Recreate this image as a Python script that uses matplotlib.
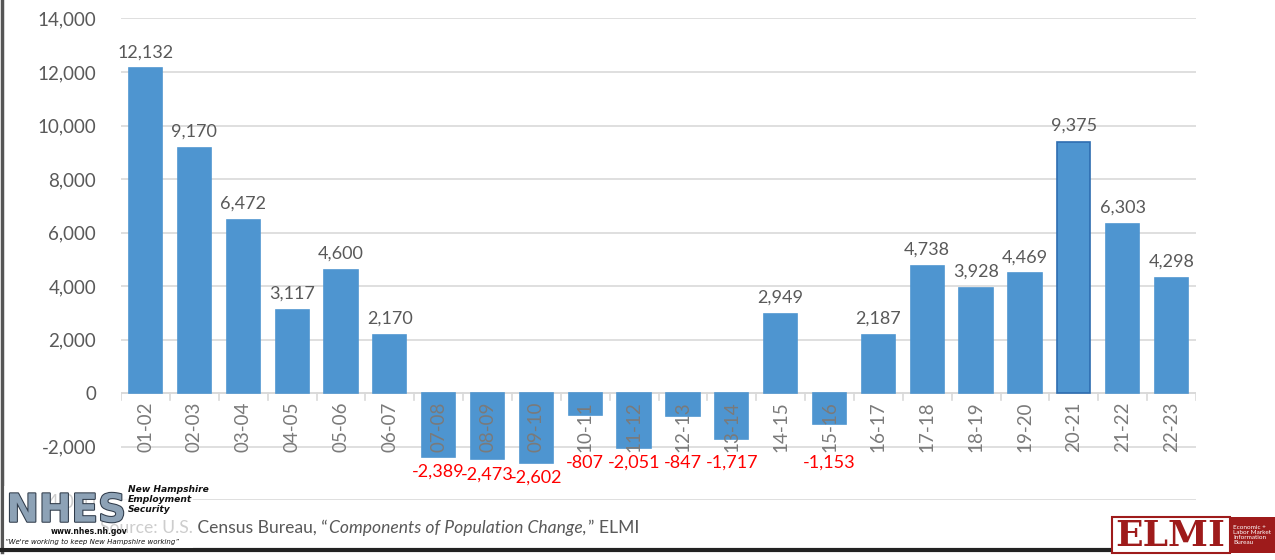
import numpy as np
import matplotlib.pyplot as plt
import matplotlib.patheffects as pe
from matplotlib.patches import Rectangle
from matplotlib.lines import Line2D
from matplotlib.ticker import FuncFormatter, MultipleLocator

# Net migration by year (NH)
periods = ["01-02", "02-03", "03-04", "04-05", "05-06", "06-07", "07-08", "08-09",
           "09-10", "10-11", "11-12", "12-13", "13-14", "14-15", "15-16", "16-17",
           "17-18", "18-19", "19-20", "20-21", "21-22", "22-23"]
values = [12132, 9170, 6472, 3117, 4600, 2170, -2389, -2473, -2602, -807, -2051,
          -847, -1717, 2949, -1153, 2187, 4738, 3928, 4469, 9375, 6303, 4298]
highlight = "20-21"

plt.rcParams['font.family'] = ['Lato', 'DejaVu Sans']
GRAY = '#595959'
BLUE = '#4E95D0'

fig = plt.figure(figsize=(12.75, 5.6), dpi=100)
ax = fig.add_axes([0.095, 0.107, 0.843, 0.86])

x = np.arange(len(periods))
edges = ['#2E6DB0' if p == highlight else BLUE for p in periods]
ax.bar(x, values, width=0.68, color=BLUE, edgecolor=edges, linewidth=1.2, zorder=3)

ax.set_xlim(-0.5, len(periods) - 0.5)
ax.set_ylim(-4000, 14000)
ax.yaxis.set_major_locator(MultipleLocator(2000))
ax.yaxis.set_major_formatter(FuncFormatter(lambda v, p: f"{int(v):,}"))
ax.grid(axis='y', color='#D9D9D9', linewidth=1.2, zorder=0)
for s in ax.spines.values():
    s.set_visible(False)
ax.tick_params(axis='y', length=0, labelsize=13.5, labelcolor=GRAY, pad=18)

# category labels hanging from the zero line
ax.axhline(0, color='#D9D9D9', linewidth=1.2, zorder=2)
ax.set_xticks([])
for xi, p in zip(x, periods):
    ax.annotate(p, (xi, 0), xytext=(0, -6), textcoords='offset points',
                rotation=90, ha='center', va='top', fontsize=13.5, color='#7A7A7A', zorder=4)
for b in np.arange(-0.5, len(periods), 1.0):
    ax.add_line(Line2D([b, b], [0, -250], color='#D9D9D9', linewidth=1.2, zorder=2))

# data labels
for xi, v in zip(x, values):
    if v >= 0:
        ax.annotate(f"{v:,}", (xi, v), xytext=(0, 6), textcoords='offset points',
                    ha='center', va='bottom', fontsize=13, color=GRAY, zorder=5)
    else:
        ax.annotate(f"{v:,}", (xi, min(v, -2050)), xytext=(0, -5), textcoords='offset points',
                    ha='center', va='top', fontsize=13, color='#FF0000', zorder=5)

# frame lines of the slide
fig.add_artist(Line2D([0.0015, 0.0015], [0.015, 1], color='#555555', linewidth=2.5, transform=fig.transFigure))
fig.add_artist(Line2D([0, 0.88], [0.018, 0.018], color='#222222', linewidth=3, transform=fig.transFigure))

# source line with italic title
fig.canvas.draw()
r = fig.canvas.get_renderer()
parts = [("Source: U.S. Census Bureau, \u201c", 'normal'),
         ("Components of Population Change,", 'italic'),
         ("\u201d ELMI", 'normal')]
xpos = 100 / 1275
for txt, style in parts:
    t = fig.text(xpos, 0.058, txt, fontsize=12.6, color=GRAY, style=style, va='center', ha='left')
    bb = t.get_window_extent(renderer=r)
    xpos = bb.x1 / fig.bbox.width + 0.001

# NHES logo (approximation)
fig.patches.append(Rectangle((0.003, 0.022), 0.148, 0.11, transform=fig.transFigure,
                             facecolor='white', edgecolor='none', alpha=0.7, zorder=5))
fig.text(0.005, 0.088, "NHES", fontsize=28, fontweight='bold', color='#8DA2B6',
         va='center', ha='left', zorder=6, family='DejaVu Sans',
         path_effects=[pe.withStroke(linewidth=1.5, foreground='#2F3B4A')])
fig.text(0.1, 0.108, "New Hampshire\nEmployment\nSecurity", fontsize=6.6, fontweight='bold',
         style='italic', color='#111111', va='center', ha='left', zorder=6, linespacing=1.15,
         family='DejaVu Sans')
fig.text(0.04, 0.05, "www.nhes.nh.gov", fontsize=5.5, fontweight='bold', color='#111111',
         va='center', ha='left', zorder=6, family='DejaVu Sans')
fig.text(0.004, 0.032, "\u201cWe're working to keep New Hampshire working\u201d", fontsize=5,
         style='italic', color='#111111', va='center', ha='left', zorder=6, family='DejaVu Sans')

# ELMI logo (approximation)
fig.patches.append(Rectangle((0.872, 0.013), 0.093, 0.063, transform=fig.transFigure,
                             facecolor='white', edgecolor='#9E1B1B', linewidth=1.5, zorder=5))
fig.patches.append(Rectangle((0.965, 0.013), 0.035, 0.063, transform=fig.transFigure,
                             facecolor='#9E1B1B', edgecolor='none', zorder=5))
fig.text(0.918, 0.043, "ELMI", fontsize=26, fontweight='bold', family='DejaVu Serif',
         color='#9E1B1B', ha='center', va='center', zorder=6)
fig.text(0.967, 0.044, "Economic +\nLabor Market\nInformation\nBureau", fontsize=4.6,
         color='white', ha='left', va='center', zorder=6, linespacing=1.0)

fig.savefig("out.png", dpi=100)
